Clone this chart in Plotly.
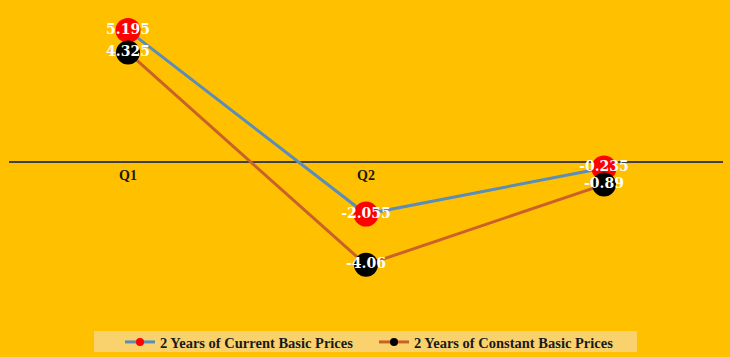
import plotly.graph_objects as go

categories = ["Q1", "Q2", "Q3"]
current_prices = [5.195, -2.055, -0.235]
constant_prices = [4.325, -4.06, -0.89]
series_names = ["2 Years of Current Basic Prices", "2 Years of Constant Basic Prices"]

FONT = "Liberation Serif"
LABEL_FONT = "DejaVu Serif"
BG = "#FFC000"
LINE_COLORS = ["#5B8DB8", "#C8622A"]
MARKER_COLORS = ["#FF0000", "#000000"]

fig = go.Figure()

for i, vals in enumerate((current_prices, constant_prices)):
    fig.add_trace(go.Scatter(
        x=categories, y=vals, name=series_names[i], showlegend=False,
        legendgroup=f"s{i}", mode="lines+markers",
        line=dict(color=LINE_COLORS[i], width=3),
        marker=dict(color=MARKER_COLORS[i], size=25 if i == 0 else 24),
    ))
# legend-only entries with small markers
for i in range(2):
    fig.add_trace(go.Scatter(
        x=[None], y=[None], name=series_names[i], legendgroup=f"s{i}",
        mode="lines+markers",
        line=dict(color=LINE_COLORS[i], width=3),
        marker=dict(color=MARKER_COLORS[i], size=8),
    ))
# value labels
for vals in (current_prices, constant_prices):
    fig.add_trace(go.Scatter(
        x=categories, y=vals, mode="text", showlegend=False,
        text=[f"{v:g}" for v in vals], textposition="middle center",
        textfont=dict(family=LABEL_FONT, size=14, color="white", weight="bold"),
        hoverinfo="skip",
    ))

fig.update_layout(
    width=730, height=357,
    margin=dict(l=9, r=7, t=10, b=43, autoexpand=False),
    paper_bgcolor=BG, plot_bgcolor=BG,
    font=dict(family=FONT, color="#1A1A1A"),
    xaxis=dict(
        type="category", range=[-0.5, 2.5],
        showgrid=False, zeroline=False,
        showline=True, linecolor="#404040", linewidth=2,
        anchor="free", position=0.5,
        ticks="", tickfont=dict(family=FONT, size=14, color="#1A1A1A", weight="bold"),
        layer="below traces",
    ),
    yaxis=dict(
        range=[-6, 6], visible=False, showgrid=False, zeroline=False,
    ),
    legend=dict(
        orientation="h", x=(120 - 9) / 714, xanchor="left",
        y=(314 - 342) / 304, yanchor="middle",
        bgcolor="rgba(0,0,0,0)", itemsizing="trace",
        font=dict(family=FONT, size=14.5, color="#1A1A1A", weight="bold"),
        itemwidth=30, tracegroupgap=0, entrywidth=209, entrywidthmode="pixels",
    ),
    shapes=[dict(
        type="rect", xref="paper", yref="paper",
        x0=(94 - 9) / 714, x1=(637 - 9) / 714,
        y0=(314 - 352) / 304, y1=(314 - 331) / 304,
        fillcolor="#F9D26E", line=dict(width=0), layer="below",
    )],
    showlegend=True,
)

fig.write_html("out.html", config={"displayModeBar": False},
               post_script="document.body.style.margin='0px';")
